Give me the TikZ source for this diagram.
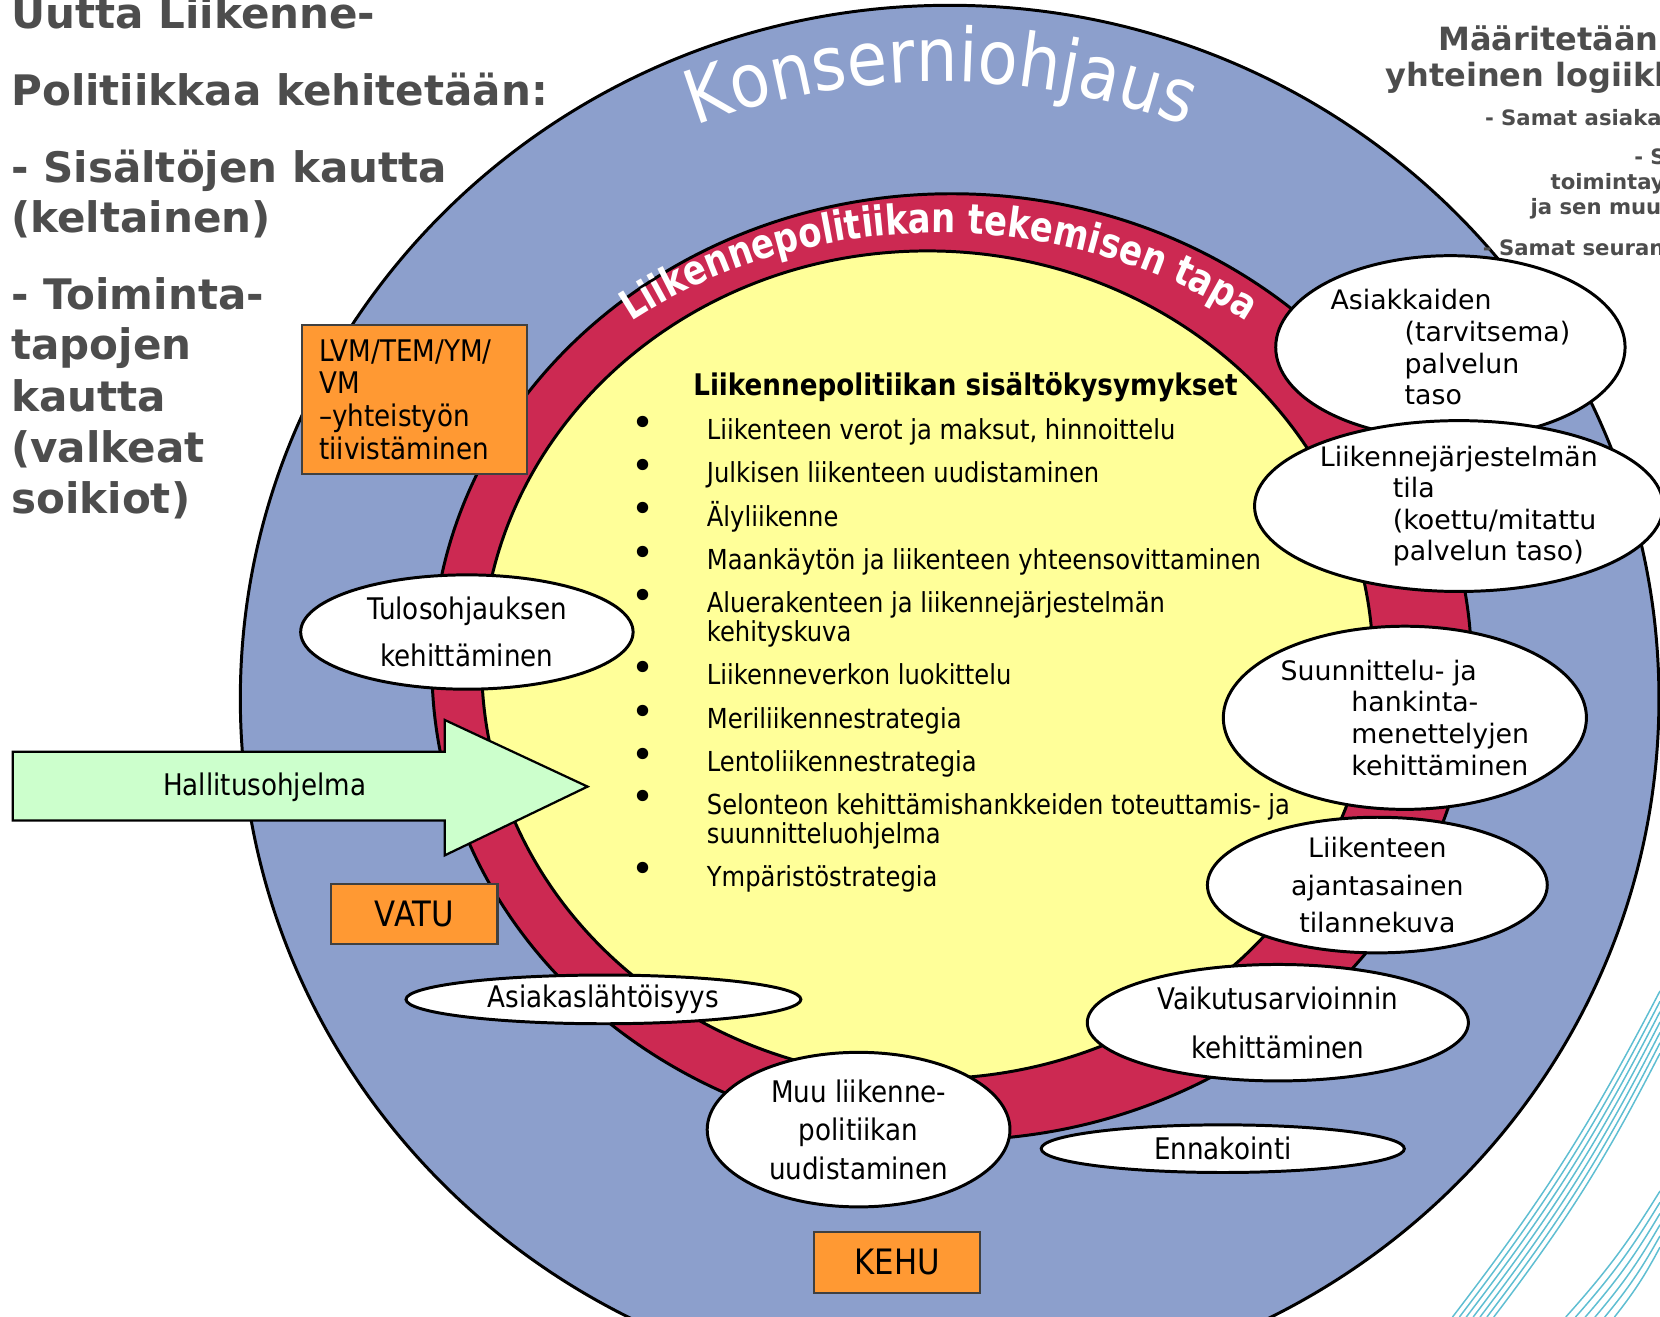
\documentclass[tikz,border=0pt]{standalone}
\usepackage{fontspec}
\setmainfont{DejaVu Sans}
\newfontfamily\narrowfont{DejaVu Sans}[FakeStretch=0.88]
\newfontfamily\condfont{DejaVu Sans}[FakeStretch=0.82]
\usepackage{tikz}
\usetikzlibrary{shapes.geometric}
\usetikzlibrary{decorations.text}
\definecolor{konsernivari}{RGB}{140,159,204}
\definecolor{tapavari}{RGB}{204,41,82}
\definecolor{sisaltovari}{RGB}{255,255,153}
\definecolor{laatikkovari}{RGB}{255,153,51}
\definecolor{hallitusvari}{RGB}{204,255,204}
\definecolor{otsikkovari}{RGB}{77,77,77}
\definecolor{viivavari}{RGB}{95,190,210}

\begin{document}
\begin{tikzpicture}[
        ring/.style={draw=black, line width=0.8pt},
        oval/.style={ellipse, draw=black, line width=0.8pt, fill=white, inner sep=0pt},
        verdana/.style={font=\fontsize{7.2}{#1}\selectfont, align=left},
        verdana/.default=8.5,
        tahoma/.style={font=\narrowfont\fontsize{8}{#1}\selectfont, align=center},
        tahoma/.default=10,
        orangebox/.style={draw=black!75, line width=0.6pt, fill=laatikkovari, inner sep=0pt},
        heading/.style={font=\bfseries\fontsize{11.3}{13.7}\selectfont, text=otsikkovari, inner sep=0pt, anchor=base west},
        smallheading/.style={font=\bfseries\fontsize{#1}{#1}\selectfont, text=otsikkovari, inner sep=0pt, anchor=base west},
        listitem/.style={font=\narrowfont\fontsize{7.4}{7.8}\selectfont, inner sep=0pt, anchor=base west},
    ]
    \useasboundingbox (0,0) rectangle (15.68,-12.44);
    % lines in the corner
    \foreach \i in {0,...,6} {
        \draw[viivavari, line width=0.4pt] (13.72+0.065*\i,-12.44) to[bend right=5] (15.68,-9.36-0.098*\i);
    }
    \foreach \i in {0,...,5} {
        \draw[viivavari, line width=0.4pt] (14.79+0.092*\i,-12.44) to[bend right=5] (15.68,-11.25-0.106*\i);
    }
    % rings
    \draw[ring, fill=konsernivari] (8.97,-6.60) ellipse [x radius=6.70, y radius=6.55];
    \draw[ring, fill=tapavari] (8.99,-6.30) ellipse [x radius=4.91, y radius=4.47];
    \draw[ring, fill=sisaltovari] (8.76,-6.28) ellipse [x radius=4.21, y radius=3.91];
    \path[decorate, decoration={text along path, text align=center,
        text={|\narrowfont\fontsize{20}{20}\selectfont\color{white}|Konserniohjaus}}]
        (8.89,-7.37) ++(115:6.6) arc[start angle=115, end angle=65, radius=6.6];
    \path[decorate, decoration={text along path, text align=center,
        text={|\condfont\bfseries\fontsize{11.1}{11.1}\selectfont\color{white}|Liikennepolitiikan tekemisen tapa}}]
        (8.87,-6.30) ++(150:4.8 and 4.1) arc[start angle=150, end angle=30, x radius=4.8, y radius=4.1];
    % sisaltokysymykset
    \node[font=\narrowfont\bfseries\fontsize{8}{8}\selectfont, inner sep=0pt, anchor=base] (otsikko) at (9.12,-3.74) {Liikennepolitiikan sisältökysymykset};
    \foreach \y/\t [count=\i] in {4.15/{Liikenteen verot ja maksut, hinnoittelu},
            4.56/Julkisen liikenteen uudistaminen,
            4.97/Älyliikenne,
            5.38/Maankäytön ja liikenteen yhteensovittaminen,
            5.79/Aluerakenteen ja liikennejärjestelmän,
            6.47/Liikenneverkon luokittelu,
            6.88/Meriliikennestrategia,
            7.29/Lentoliikennestrategia,
            7.69/Selonteon kehittämishankkeiden toteuttamis- ja,
            8.37/Ympäristöstrategia} {
        \node[listitem] (item\i) at (6.67,-\y) {\t};
        \node[listitem, anchor=base, font=\fontsize{10.5}{10.5}\selectfont] (dot\i) at (6.07,-\y+0.03) {\textbullet};
    }
    \node[listitem] (item5b) at (6.67,-6.06) {kehityskuva};
    \node[listitem] (item9b) at (6.67,-7.97) {suunnitteluohjelma};
    % Hallitusohjelma
    \draw[line width=0.6pt, fill=hallitusvari] (0.12,-7.10) -- (4.20,-7.10) -- (4.20,-6.80) -- (5.55,-7.43)
        -- (4.20,-8.08) -- (4.20,-7.75) -- (0.12,-7.75) -- cycle;
    \node[tahoma] (hallitus) at (2.50,-7.44) {Hallitusohjelma};
    % boxes
    \node[orangebox, minimum width=2.13cm, minimum height=1.41cm, text width=1.80cm, inner xsep=0.165cm, align=left,
        font=\narrowfont\fontsize{8}{8.8}\selectfont] (lvm) at (3.915,-3.775) {LVM/TEM/YM/\\VM\\–yhteistyön\\tiivistäminen};
    \node[orangebox, minimum width=1.57cm, minimum height=0.57cm, font=\narrowfont\fontsize{9.4}{11}\selectfont] (vatu) at (3.915,-8.635) {VATU};
    \node[orangebox, minimum width=1.57cm, minimum height=0.57cm, font=\narrowfont\fontsize{9.4}{11}\selectfont] (kehu) at (8.475,-11.925) {KEHU};
    % soikiot
    \node[oval, tahoma=12.8, minimum width=3.14cm, minimum height=1.08cm] (tulos) at (4.41,-5.97) {Tulosohjauksen\\kehittäminen};
    \node[oval, verdana, minimum width=3.30cm, minimum height=1.73cm] (asiakkaat) at (13.70,-3.28)
        {Asiakkaiden\\\hspace*{0.7cm}(tarvitsema)\\\hspace*{0.7cm}palvelun\\\hspace*{0.7cm}taso};
    \node[oval, verdana, minimum width=3.86cm, minimum height=1.60cm] (tila) at (13.78,-4.78)
        {Liikennejärjestelmän\\\hspace*{0.69cm}tila\\\hspace*{0.69cm}(koettu/mitattu\\\hspace*{0.69cm}palvelun taso)};
    \node[oval, verdana, minimum width=3.43cm, minimum height=1.73cm] (suunnittelu) at (13.27,-6.78)
        {Suunnittelu- ja\\\hspace*{0.67cm}hankinta-\\\hspace*{0.67cm}menettelyjen\\\hspace*{0.67cm}kehittäminen};
    \node[oval, verdana=10.1, align=center, minimum width=3.21cm, minimum height=1.08cm] (tilanne) at (13.01,-8.36)
        {Liikenteen\\ajantasainen\\tilannekuva};
    \node[oval, tahoma=13.1, minimum width=3.60cm, minimum height=1.10cm] (vaikutus) at (12.07,-9.66) {Vaikutusarvioinnin\\kehittäminen};
    \node[oval, tahoma, minimum width=3.43cm, minimum height=0.45cm] (ennakointi) at (11.55,-10.85) {Ennakointi};
    \node[oval, tahoma=10.4, minimum width=2.86cm, minimum height=1.46cm] (muu) at (8.11,-10.67) {Muu liikenne-\\politiikan\\uudistaminen};
    \node[oval, tahoma, minimum width=3.73cm, minimum height=0.46cm] (asiakaslahto) at (5.70,-9.44) {Asiakaslähtöisyys};
    % otsikot
    \foreach \y/\t [count=\i] in {0.27/Uutta Liikenne-, 1.00/Politiikkaa kehitetään:, 1.72/- Sisältöjen kautta,
            2.20/(keltainen), 2.92/- Toiminta-, 3.40/tapojen, 3.89/kautta, 4.37/(valkeat, 4.85/soikiot)} {
        \node[heading] (head\i) at (0.10,-\y) {\t};
    }
    \node[smallheading=8.6] (logiikka1) at (13.58,-0.48) {Määritetään};
    \node[smallheading=8.6] (logiikka2) at (13.08,-0.82) {yhteinen logiikk};
    \node[smallheading=5.7] (samat1) at (14.02,-1.19) {- Samat asiaka};
    \node[smallheading=5.7] (samat2) at (15.43,-1.55) {- S};
    \node[smallheading=5.7] (samat3) at (14.64,-1.79) {toimintay};
    \node[smallheading=5.7] (samat4) at (14.45,-2.03) {ja sen muu};
    \node[smallheading=5.7] (samat5) at (14.00,-2.41) {- Samat seuran};
\end{tikzpicture}
\end{document}
